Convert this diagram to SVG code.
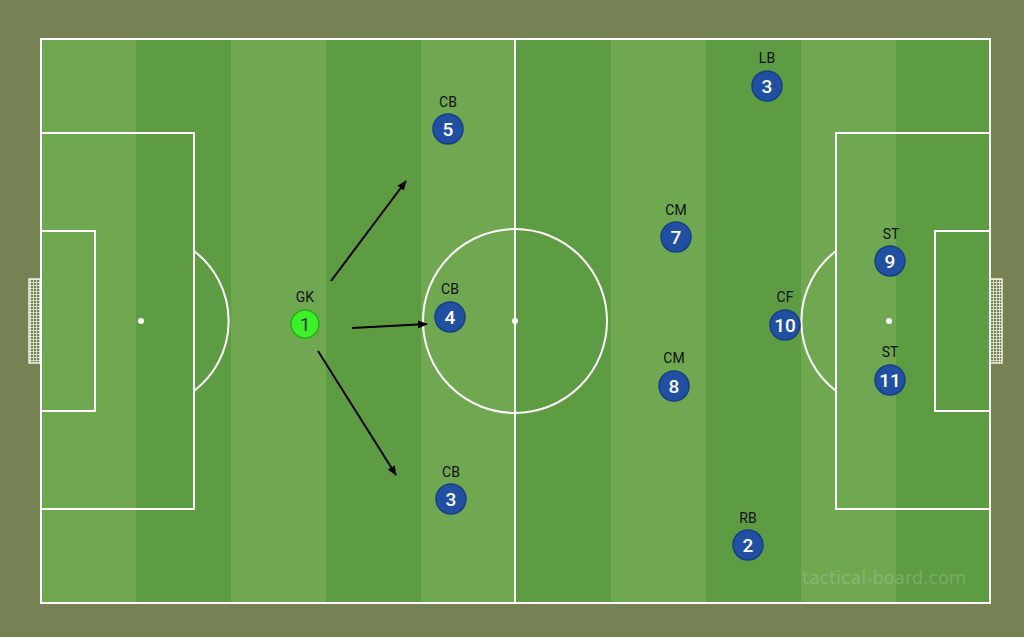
<svg xmlns="http://www.w3.org/2000/svg" width="1024" height="637" viewBox="0 0 1024 637">
<defs>
<style>
.ln{fill:none;stroke:#ffffff;stroke-width:2}
.spot{fill:#ffffff}
.lt{fill:#70a852}
.dk{fill:#5e9c43}
.p{fill:#2150a2;stroke:#183f86;stroke-width:1.5}
.gk{fill:#3cf02a;stroke:#27b01c;stroke-width:1.5}
.num{font-family:Roboto,"Liberation Sans",sans-serif;font-size:19px;font-weight:500;fill:#ffffff;text-anchor:middle}
.gnum{font-family:Roboto,"Liberation Sans",sans-serif;font-size:19px;fill:#1a3a12;text-anchor:middle}
.lab{font-family:Roboto,"Liberation Sans",sans-serif;font-size:14px;fill:#111111;text-anchor:middle}
.arr{stroke:#000000;stroke-width:2;fill:none;marker-end:url(#ah)}
</style>
<marker id="ah" markerWidth="10" markerHeight="8" refX="9" refY="4" orient="auto" markerUnits="userSpaceOnUse">
<path d="M0,0 L10,4 L0,8 Z" fill="#000000"/>
</marker>
<pattern id="net" width="3" height="3" patternUnits="userSpaceOnUse">
<rect width="3" height="3" fill="#768254"/>
<path d="M0,0.5H3M0.5,0V3" stroke="#e8eedd" stroke-width="0.8"/>
</pattern>
</defs>
<rect width="1024" height="637" fill="#768254"/>
<g id="pitch">
<rect class="lt" x="41" y="39" width="95" height="564"/>
<rect class="dk" x="136" y="39" width="95" height="564"/>
<rect class="lt" x="231" y="39" width="95" height="564"/>
<rect class="dk" x="326" y="39" width="95" height="564"/>
<rect class="lt" x="421" y="39" width="95" height="564"/>
<rect class="dk" x="516" y="39" width="95" height="564"/>
<rect class="lt" x="611" y="39" width="95" height="564"/>
<rect class="dk" x="706" y="39" width="95" height="564"/>
<rect class="lt" x="801" y="39" width="95" height="564"/>
<rect class="dk" x="896" y="39" width="94" height="564"/>
<rect x="29" y="279" width="12" height="84" fill="url(#net)" stroke="#eef2e4" stroke-width="1.5"/>
<rect x="990" y="279" width="12" height="84" fill="url(#net)" stroke="#eef2e4" stroke-width="1.5"/>
<rect class="ln" x="41" y="39" width="949" height="564"/>
<line class="ln" x1="515" y1="39" x2="515" y2="603"/>
<circle class="ln" cx="515" cy="321" r="92"/>
<circle class="spot" cx="515" cy="321" r="3"/>
<rect class="ln" x="41" y="133" width="153" height="376"/>
<rect class="ln" x="41" y="231" width="54" height="180"/>
<circle class="spot" cx="141" cy="321" r="3"/>
<path class="ln" d="M194,251 A88,88 0 0 1 194,391"/>
<rect class="ln" x="836" y="133" width="154" height="376"/>
<rect class="ln" x="935" y="231" width="55" height="180"/>
<circle class="spot" cx="889" cy="321" r="3"/>
<path class="ln" d="M836,251 A88,88 0 0 0 836,391"/>
<text x="884" y="584" font-family="'DejaVu Sans',sans-serif" font-size="17.5" fill="#ffffff" fill-opacity="0.18" text-anchor="middle">tactical-board.com</text>
</g>
<g id="connectors">
<line class="arr" x1="331" y1="281" x2="406" y2="181"/>
<line class="arr" x1="352" y1="328" x2="427" y2="324"/>
<line class="arr" x1="318" y1="351" x2="396" y2="475"/>
</g>
<g id="gk"><text class="lab" x="305" y="302">GK</text><circle class="gk" cx="305" cy="324" r="14"/><text class="gnum" x="305" y="331">1</text></g>
<g id="cb5"><text class="lab" x="448" y="107">CB</text><circle class="p" cx="448" cy="129" r="15"/><text class="num" x="448" y="136">5</text></g>
<g id="cb4"><text class="lab" x="450" y="294">CB</text><circle class="p" cx="450" cy="317" r="15"/><text class="num" x="450" y="324">4</text></g>
<g id="cb3"><text class="lab" x="451" y="477">CB</text><circle class="p" cx="451" cy="499" r="15"/><text class="num" x="451" y="506">3</text></g>
<g id="lb3"><text class="lab" x="767" y="63">LB</text><circle class="p" cx="767" cy="86" r="15"/><text class="num" x="767" y="93">3</text></g>
<g id="cm7"><text class="lab" x="676" y="215">CM</text><circle class="p" cx="676" cy="237" r="15"/><text class="num" x="676" y="244">7</text></g>
<g id="cm8"><text class="lab" x="674" y="363">CM</text><circle class="p" cx="674" cy="386" r="15"/><text class="num" x="674" y="393">8</text></g>
<g id="cf10"><text class="lab" x="785" y="302">CF</text><circle class="p" cx="785" cy="325" r="15"/><text class="num" x="785" y="332">10</text></g>
<g id="st9"><text class="lab" x="891" y="239">ST</text><circle class="p" cx="890" cy="261" r="15"/><text class="num" x="890" y="268">9</text></g>
<g id="st11"><text class="lab" x="890" y="357">ST</text><circle class="p" cx="890" cy="380" r="15"/><text class="num" x="890" y="387">11</text></g>
<g id="rb2"><text class="lab" x="748" y="523">RB</text><circle class="p" cx="748" cy="545" r="15"/><text class="num" x="748" y="552">2</text></g>
</svg>
